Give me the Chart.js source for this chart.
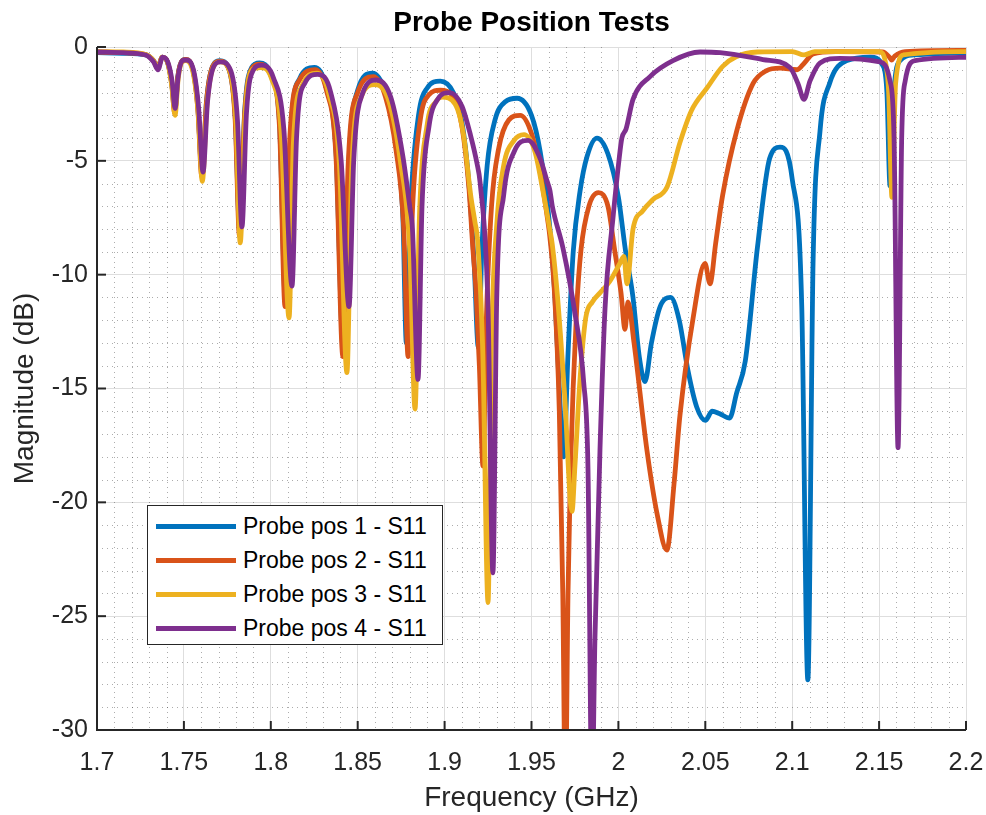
<!DOCTYPE html>
<html>
<head>
<meta charset="utf-8">
<title>Probe Position Tests</title>
<script src="https://cdn.jsdelivr.net/npm/chart.js@4.4.1/dist/chart.umd.min.js"></script>
<style>
html,body{margin:0;padding:0;background:#fff}
#wrap{position:relative;width:986px;height:815px}
#legend{position:absolute;left:147px;top:505px;width:296px;height:140px;border:1px solid #262626;background:#fff;box-sizing:border-box;
  font-family:'Liberation Sans',Arial,sans-serif;font-size:23px;color:#000}
.li{position:absolute;left:8px;height:34px;display:flex;align-items:center;white-space:nowrap}
.ls{width:80px;height:5px;margin-right:7px}
</style>
</head>
<body>
<div id="wrap">
  <canvas id="c" width="986" height="815"></canvas>
  <div id="legend"></div>
</div>
<script>
/* DATA */
const seriesLabels=['Probe pos 1 - S11','Probe pos 2 - S11','Probe pos 3 - S11','Probe pos 4 - S11'];
const seriesColors=['#0072BD','#D95319','#EDB120','#7E2F8E'];
const xTickVals=[1.7,1.75,1.8,1.85,1.9,1.95,2,2.05,2.1,2.15,2.2];
const yTickVals=[-30,-25,-20,-15,-10,-5,0];

const freq1=[1.700,1.715,1.728,1.7325,1.7350,1.7375,1.7405,1.7430,1.7448,1.7465,1.7490,1.7510,1.7555,1.7580,1.7605,1.7630,1.7665,1.7705,1.7760,1.7795,
  1.7822,1.7850,1.7890,1.7935,1.8000,1.8050,1.8085,1.8115,1.8165,1.8250,1.8320,1.8375,1.8418,1.8450,1.8500,1.8585,1.8660,1.8720,1.8760,1.8780,
  1.8805,1.8850,1.8900,1.8975,1.9050,1.9100,1.9140,1.9170,1.9194,1.9215,1.9245,1.9290,1.9350,1.9417,1.9500,1.9550,1.9600,1.9635,1.9660,1.9685,
  1.9710,1.9740,1.9780,1.9820,1.9877,1.9940,2.0000,2.0040,2.0084,2.0120,2.0153,2.0190,2.0240,2.0300,2.0350,2.0400,2.0450,2.0500,2.0540,2.0580,
  2.0640,2.0680,2.0730,2.0800,2.0870,2.0930,2.1000,2.1055,2.1090,2.1120,2.1160,2.1215,2.1315,2.1450,2.1520,2.1545,2.1563,2.1585,2.1620,2.1700,2.2000];
const mag1=[-0.25,-0.28,-0.35,-0.6,-0.9,-0.45,-0.65,-1.6,-2.8,-1.3,-0.6,-0.55,-1.1,-2.6,-5.6,-2.4,-0.85,-0.6,-1.0,-3.0,
  -8.2,-2.8,-0.9,-0.7,-1.2,-3.3,-11.2,-3.8,-1.4,-0.9,-1.8,-4.6,-13.4,-5.0,-1.9,-1.15,-2.0,-4.2,-7.5,-13.0,
  -7.0,-3.0,-1.8,-1.5,-2.0,-3.3,-6.0,-9.5,-13.2,-8.8,-5.2,-3.2,-2.4,-2.25,-3.0,-4.6,-7.5,-11.0,-15.0,-18.0,
  -13.5,-9.0,-6.3,-4.8,-4.0,-4.7,-6.6,-8.9,-11.0,-13.6,-14.7,-13.0,-11.4,-11.0,-12.0,-14.2,-15.8,-16.4,-16.0,-16.1,
  -16.3,-15.2,-13.8,-8.8,-4.9,-4.4,-5.8,-11.4,-27.8,-9.5,-3.7,-1.6,-0.6,-0.45,-0.8,-2.0,-6.1,-2.0,-0.6,-0.35,-0.25];

const freq2=[1.700,1.715,1.728,1.7325,1.7350,1.7375,1.7405,1.7430,1.7447,1.7465,1.7490,1.7510,1.7555,1.7580,1.7603,1.7630,1.7665,1.7705,1.7760,1.7795,
  1.7820,1.7850,1.7890,1.7935,1.8000,1.8050,1.8082,1.8110,1.8165,1.8255,1.8320,1.8375,1.8415,1.8445,1.8500,1.8590,1.8660,1.8720,1.8765,1.8790,
  1.8815,1.8860,1.8910,1.8975,1.9050,1.9100,1.9140,1.9163,1.9180,1.9200,1.9221,1.9240,1.9270,1.9310,1.9370,1.9435,1.9500,1.9550,1.9595,1.9605,
  1.9630,1.9660,1.9680,1.9695,1.9710,1.9725,1.9760,1.9785,1.9830,1.9885,1.9940,1.9980,2.0015,2.0038,2.0055,2.0090,2.0164,2.0225,2.0279,2.0320,
  2.0354,2.0430,2.0498,2.0527,2.0560,2.0600,2.0682,2.0775,2.0850,2.0930,2.1028,2.1070,2.1120,2.1250,2.1520,2.1560,2.1572,2.1590,2.1650,2.2000];
const mag2=[-0.22,-0.25,-0.33,-0.6,-0.9,-0.45,-0.65,-1.6,-2.9,-1.3,-0.6,-0.55,-1.1,-2.7,-5.7,-2.4,-0.85,-0.62,-1.0,-3.2,
  -8.3,-2.9,-0.95,-0.75,-1.25,-3.5,-11.4,-3.9,-1.45,-1.0,-1.9,-4.8,-13.6,-5.2,-2.0,-1.3,-2.2,-4.5,-8.0,-13.6,
  -7.2,-3.2,-2.1,-1.9,-2.2,-3.5,-6.2,-8.9,-10.6,-14.0,-18.4,-12.0,-7.0,-4.5,-3.2,-3.0,-3.8,-5.5,-7.7,-8.3,
  -10.5,-16.0,-24.0,-33.0,-24.0,-18.4,-11.5,-8.9,-7.0,-6.4,-7.0,-9.0,-10.8,-12.4,-11.2,-13.0,-17.7,-20.6,-22.1,-19.2,
  -16.2,-11.9,-9.5,-10.4,-8.6,-6.5,-3.65,-1.6,-1.05,-0.93,-1.0,-0.7,-0.3,-0.2,-0.22,-0.45,-0.57,-0.4,-0.2,-0.15];

const freq3=[1.700,1.715,1.728,1.7325,1.7350,1.7375,1.7405,1.7430,1.7449,1.7467,1.7490,1.7510,1.7555,1.7582,1.7606,1.7632,1.7668,1.7708,1.7765,1.7800,
  1.7824,1.7852,1.7892,1.7940,1.8005,1.8060,1.8105,1.8130,1.8180,1.8265,1.8335,1.8395,1.8438,1.8465,1.8520,1.8600,1.8680,1.8745,1.8800,1.8830,
  1.8855,1.8900,1.8950,1.8985,1.9060,1.9110,1.9150,1.9175,1.9190,1.9220,1.9250,1.9270,1.9300,1.9340,1.9400,1.9457,1.9520,1.9570,1.9605,1.9620,
  1.9650,1.9690,1.9733,1.9750,1.9780,1.9812,1.9850,1.9894,1.9950,2.0009,2.0032,2.0049,2.0084,2.0140,2.0199,2.0280,2.0354,2.0420,2.0510,2.0600,
  2.0677,2.0800,2.1000,2.1068,2.1130,2.1500,2.1540,2.1555,2.1574,2.1595,2.1640,2.2000];
const mag3=[-0.2,-0.22,-0.33,-0.6,-0.95,-0.45,-0.65,-1.7,-3.0,-1.4,-0.65,-0.6,-1.2,-2.9,-5.9,-2.6,-0.9,-0.65,-1.1,-3.4,
  -8.6,-3.0,-1.0,-0.9,-1.4,-3.8,-11.9,-4.2,-1.7,-1.15,-2.1,-5.2,-14.3,-5.5,-2.2,-1.65,-2.4,-5.0,-9.0,-15.9,
  -7.5,-3.4,-2.4,-2.2,-2.5,-3.9,-6.5,-7.7,-8.5,-13.5,-24.4,-13.0,-7.8,-5.2,-4.1,-3.85,-4.6,-6.5,-8.0,-8.7,
  -11.0,-15.2,-20.4,-18.4,-14.5,-11.9,-11.2,-10.8,-10.3,-9.5,-9.2,-10.4,-8.0,-7.2,-6.7,-6.15,-4.2,-2.8,-1.8,-0.85,
  -0.43,-0.22,-0.2,-0.35,-0.2,-0.2,-0.8,-2.0,-6.6,-1.6,-0.35,-0.2];

const freq4=[1.700,1.715,1.728,1.7325,1.7351,1.7377,1.7407,1.7432,1.7449,1.7467,1.7492,1.7512,1.7558,1.7585,1.7610,1.7636,1.7672,1.7712,1.7770,1.7808,
  1.7834,1.7860,1.7900,1.7945,1.8015,1.8075,1.8122,1.8148,1.8195,1.8270,1.8345,1.8405,1.8450,1.8477,1.8530,1.8605,1.8690,1.8760,1.8801,1.8815,
  1.8847,1.8870,1.8910,1.8960,1.9030,1.9100,1.9150,1.9186,1.9205,1.9250,1.9278,1.9300,1.9340,1.9400,1.9480,1.9550,1.9590,1.9606,1.9620,1.9680,
  1.9750,1.9800,1.9825,1.9848,1.9865,1.9894,1.9923,1.9969,2.0003,2.0020,2.0044,2.0084,2.0182,2.0314,2.0470,2.0585,2.0832,2.0987,2.1033,2.1068,
  2.1102,2.1160,2.1275,2.1505,2.1563,2.1586,2.1609,2.1630,2.1650,2.1707,2.2000];
const mag4=[-0.22,-0.25,-0.35,-0.65,-1.0,-0.45,-0.65,-1.5,-2.7,-1.3,-0.6,-0.57,-1.1,-2.7,-5.5,-2.4,-0.85,-0.65,-1.05,-3.2,
  -7.9,-2.9,-1.0,-0.8,-1.35,-3.6,-10.5,-4.0,-1.6,-1.2,-2.0,-5.0,-11.4,-5.0,-2.0,-1.45,-2.2,-4.8,-7.1,-8.0,
  -14.6,-7.0,-3.5,-2.3,-2.0,-2.6,-3.9,-5.1,-6.0,-11.5,-23.1,-11.0,-6.5,-4.6,-4.1,-4.9,-5.9,-6.3,-7.0,-8.8,
  -11.7,-14.7,-18.5,-33.0,-26.0,-17.7,-11.5,-7.5,-5.0,-4.0,-3.6,-2.3,-1.3,-0.6,-0.22,-0.25,-0.55,-0.9,-1.6,-2.3,
  -1.5,-0.7,-0.5,-0.65,-1.5,-4.0,-17.6,-4.0,-1.5,-0.6,-0.45];

const freqs=[freq1,freq2,freq3,freq4];
const mags=[mag1,mag2,mag3,mag4];

const FONT="'Liberation Sans', Arial, Helvetica, sans-serif";
const AX='#262626';
Chart.defaults.font.family=FONT;
Chart.defaults.color=AX;

function fmtTick(v){return String(+(+v).toFixed(2));}

/* minor dotted grid + axis lines + inward ticks + title */
const matlabLook={
  id:'matlabLook',
  beforeDatasetsDraw(chart){
    const {ctx,chartArea:a,scales:{x,y}}=chart;
    ctx.save();
    ctx.strokeStyle='rgba(38,38,38,0.38)';ctx.lineWidth=1;ctx.setLineDash([1,4]);
    for(let i=1;i<50;i++){
      if(i%5===0)continue;
      const px=Math.round(x.getPixelForValue(1.7+i*0.01))+0.5;
      ctx.beginPath();ctx.moveTo(px,a.top);ctx.lineTo(px,a.bottom);ctx.stroke();
    }
    for(let j=1;j<30;j++){
      if(j%5===0)continue;
      const py=Math.round(y.getPixelForValue(-j))+0.5;
      ctx.beginPath();ctx.moveTo(a.left,py);ctx.lineTo(a.right,py);ctx.stroke();
    }
    ctx.restore();
  },
  afterDraw(chart){
    const {ctx,chartArea:a,scales:{x,y}}=chart;
    ctx.save();
    ctx.strokeStyle=AX;ctx.lineWidth=2;
    ctx.beginPath();ctx.moveTo(a.left,a.top);ctx.lineTo(a.left,a.bottom);ctx.lineTo(a.right,a.bottom);ctx.stroke();
    ctx.lineWidth=2;
    xTickVals.forEach(v=>{const px=x.getPixelForValue(v);ctx.beginPath();ctx.moveTo(px,a.bottom);ctx.lineTo(px,a.bottom-9);ctx.stroke();});
    yTickVals.forEach(v=>{const py=y.getPixelForValue(v);ctx.beginPath();ctx.moveTo(a.left,py);ctx.lineTo(a.left+9,py);ctx.stroke();});
    ctx.fillStyle='#000';ctx.font='bold 28px '+FONT;ctx.textAlign='center';ctx.textBaseline='middle';
    ctx.fillText('Probe Position Tests',(a.left+a.right)/2,23);
    ctx.restore();
  }
};

new Chart(document.getElementById('c'),{
  type:'line',
  data:{datasets:seriesLabels.map((lab,k)=>({
    label:lab,
    data:freqs[k].map((f,i)=>({x:f,y:mags[k][i]})),
    borderColor:seriesColors[k],backgroundColor:seriesColors[k],
    borderWidth:4.8,pointRadius:0,cubicInterpolationMode:'monotone',
    borderJoinStyle:'round',borderCapStyle:'round',clip:0,order:4-k
  }))},
  options:{
    responsive:false,animation:false,devicePixelRatio:1,
    layout:{padding:{top:47,right:20,left:0,bottom:0}},
    plugins:{legend:{display:false},tooltip:{enabled:false},title:{display:false}},
    scales:{
      x:{type:'linear',min:1.7,max:2.2,
        afterBuildTicks:s=>{s.ticks=xTickVals.map(v=>({value:v}));},
        afterFit:s=>{s.height=85;s.paddingLeft=0;s.paddingRight=0;},
        grid:{color:'#dedede',lineWidth:1,drawTicks:false},border:{display:false},
        ticks:{padding:18,maxRotation:0,autoSkip:false,color:AX,font:{size:25},callback:fmtTick},
        title:{display:true,text:'Frequency (GHz)',color:AX,font:{size:28},padding:{top:0,bottom:0}}},
      y:{type:'linear',min:-30,max:0,
        afterBuildTicks:s=>{s.ticks=yTickVals.map(v=>({value:v}));},
        afterFit:s=>{s.width=97;s.paddingTop=0;s.paddingBottom=0;},
        grid:{color:'#dedede',lineWidth:1,drawTicks:false},border:{display:false},
        ticks:{padding:9,color:AX,font:{size:25},callback:fmtTick},
        title:{display:true,text:'Magnitude (dB)',color:AX,font:{size:28},padding:{top:8,bottom:0}}}
    }
  },
  plugins:[matlabLook]
});

/* legend as html, from the series arrays */
document.getElementById('legend').innerHTML=seriesLabels.map((lab,k)=>
  `<div class="li" style="top:${3+k*34}px"><span class="ls" style="background:${seriesColors[k]}"></span>${lab}</div>`).join('');
</script>
</body>
</html>
